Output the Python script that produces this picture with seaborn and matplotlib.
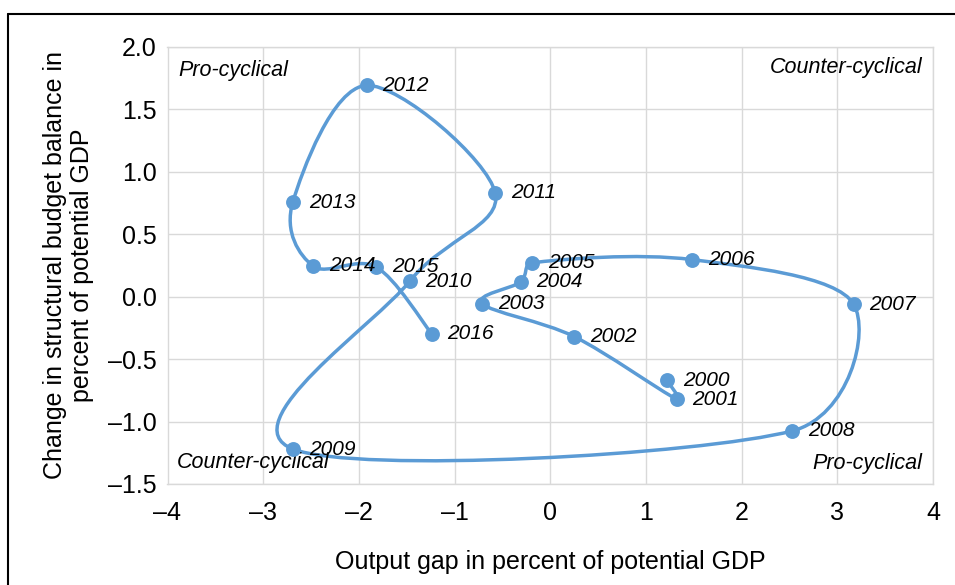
import numpy as np
import pandas as pd
import matplotlib
matplotlib.use("Agg")
import matplotlib.pyplot as plt
from matplotlib.path import Path
from matplotlib.patches import PathPatch
from matplotlib.lines import Line2D
import seaborn as sns

years = [2000, 2001, 2002, 2003, 2004, 2005, 2006, 2007, 2008,
         2009, 2010, 2011, 2012, 2013, 2014, 2015, 2016]
output_gap = [1.22, 1.32, 0.25, -0.71, -0.31, -0.19, 1.48, 3.17, 2.53,
              -2.69, -1.47, -0.575, -1.92, -2.69, -2.48, -1.82, -1.24]
budget_change = [-0.67, -0.82, -0.32, -0.056, 0.117, 0.27, 0.296, -0.06, -1.075,
                 -1.22, 0.122, 0.83, 1.69, 0.757, 0.245, 0.237, -0.296]

quadrant_labels = ["Pro-cyclical", "Counter-cyclical", "Counter-cyclical", "Pro-cyclical"]

df = pd.DataFrame({"year": years, "gap": output_gap, "chg": budget_change})

sns.set_theme(style="white")
plt.rcParams['font.family'] = ['Liberation Sans', 'DejaVu Sans']
plt.rcParams['text.color'] = 'black'
plt.rcParams['axes.labelcolor'] = 'black'

BLUE = "#5B9BD5"
W, H = 955, 585
fig = plt.figure(figsize=(W / 100, H / 100), dpi=100)
ax = fig.add_axes([167.5 / W, 1 - 484 / H, (933 - 167.5) / W, (484 - 46.7) / H])

# Smoothed line (Catmull-Rom style Bezier through the data points)
pts = df[["gap", "chg"]].to_numpy()
n = len(pts)
verts = [tuple(pts[0])]
codes = [Path.MOVETO]
for i in range(n - 1):
    p0 = pts[i - 1] if i > 0 else pts[i]
    p1 = pts[i]
    p2 = pts[i + 1]
    p3 = pts[i + 2] if i + 2 < n else pts[i + 1]
    seg = np.hypot(*(p2 - p1))
    t1 = (p2 - p0) / 6.0
    t2 = (p3 - p1) / 6.0
    # limit tangent length relative to the segment to avoid small loops
    for t in (t1, t2):
        L = np.hypot(*t)
        if L > 0.5 * seg and L > 0:
            t *= 0.5 * seg / L
    c1 = p1 + t1
    c2 = p2 - t2
    verts += [tuple(c1), tuple(c2), tuple(p2)]
    codes += [Path.CURVE4, Path.CURVE4, Path.CURVE4]
ax.add_patch(PathPatch(Path(verts, codes), facecolor="none", edgecolor=BLUE,
                       lw=2.5, zorder=3, capstyle="round", joinstyle="round"))

sns.scatterplot(data=df, x="gap", y="chg", ax=ax, color=BLUE, s=115,
                edgecolor=BLUE, linewidth=0, zorder=4, legend=False)

for yr, gx, cy in zip(years, output_gap, budget_change):
    ax.annotate(str(yr), (gx, cy), xytext=(11.5, 0), textcoords="offset points",
                ha="left", va="center", fontsize=15, style="italic", color="black",
                zorder=5)

ax.set_xlim(-4, 4)
ax.set_ylim(-1.5, 2.0)
ax.set_xticks(np.arange(-4, 5, 1))
ax.set_yticks(np.arange(-1.5, 2.01, 0.5))
ax.set_xticklabels([f"{v:d}".replace("-", "\u2013") for v in range(-4, 5)])
ax.set_yticklabels([f"{v:.1f}".replace("-", "\u2013") for v in np.arange(-1.5, 2.01, 0.5)])
ax.tick_params(axis="y", labelsize=18, colors="black", length=0, pad=8)
ax.tick_params(axis="x", labelsize=18, colors="black", length=0, pad=12)
ax.grid(True, color="#D9D9D9", lw=1.0)
ax.set_axisbelow(True)
for s in ax.spines.values():
    s.set_color("#D9D9D9")
    s.set_linewidth(1.0)

ax.set_xlabel("Output gap in percent of potential GDP", fontsize=18, labelpad=18)
ax.set_ylabel("Change in structural budget balance in\npercent of potential GDP",
              fontsize=18, labelpad=10, linespacing=1.15)

qs = dict(fontsize=15.5, style="italic", color="black", transform=ax.transAxes, va="center")
ax.text((178 - 167.5) / 765.5, (484 - 71) / 437.3, quadrant_labels[0], ha="left", **qs)
ax.text((922.5 - 167.5) / 765.5, (484 - 68) / 437.3, quadrant_labels[1], ha="right", **qs)
ax.text((177 - 167.5) / 765.5, (484 - 462.7) / 437.3, quadrant_labels[2], ha="left", **qs)
ax.text((922 - 167.5) / 765.5, (484 - 463.3) / 437.3, quadrant_labels[3], ha="right", **qs)

# Figure frame (top and left edges)
fig.add_artist(Line2D([8 / W, 1.0], [1 - 14 / H, 1 - 14 / H], color="black", lw=1.5,
                      transform=fig.transFigure))
fig.add_artist(Line2D([8 / W, 8 / W], [0, 1 - 14 / H], color="black", lw=1.5,
                      transform=fig.transFigure))

fig.savefig("out.png", dpi=100)
